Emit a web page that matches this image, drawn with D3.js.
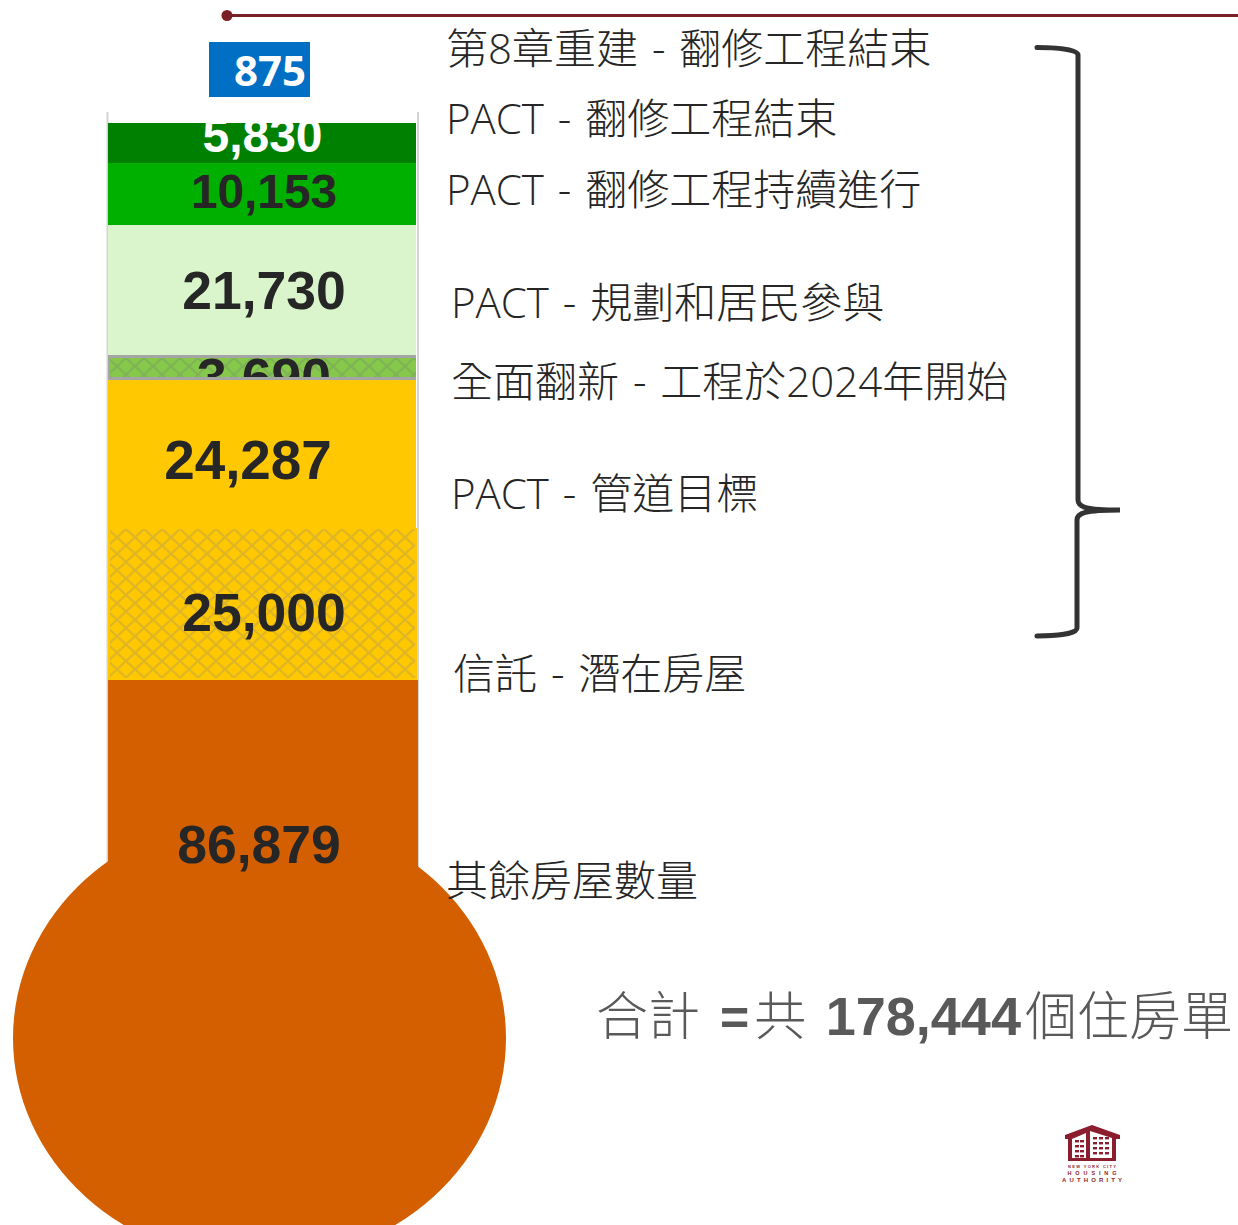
<!DOCTYPE html>
<html>
<head>
	<meta charset="utf-8">
	<title></title>
	<style>
		html, body { margin: 0; padding: 0; background: #fff; }
		svg { display: block; }
		.label { font-family: "Open Sans", "Noto Sans CJK TC", sans-serif; font-weight: 300; fill: #262626; font-size: 42px; word-spacing: 3px; }
		.value { font-family: "Liberation Sans", Arial, sans-serif; font-weight: 700; fill: #262626; text-anchor: middle; }
	</style>
</head>
<body>
	<svg id="container" width="1238" height="1225"></svg>
	<script src="https://d3js.org/d3.v7.min.js"></script>
	<script>
		// bottom to top, same order as the column
		let categories = ["其餘房屋數量", "信託 - 潛在房屋", "PACT - 管道目標", "全面翻新 - 工程於2024年開始", "PACT - 規劃和居民參與", "PACT - 翻修工程持續進行", "PACT - 翻修工程結束", "第8章重建 - 翻修工程結束"]
		let units = [86879, 25000, 24287, 3690, 21730, 10153, 5830, 875]
		let colors = ["#d35f00", "#ffc800", "#ffc800", "#86c94a", "#daf5cc", "#00b000", "#008000", "#006fc4"]
		let hatched = [false, true, false, true, false, false, false, false]
		let textColors = ["#262626", "#262626", "#262626", "#262626", "#262626", "#262626", "#fff", "#fff"]

		// label layout, same order
		let labelX = [446, 453, 451, 451, 451, 446, 446, 446]
		let labelY = [896, 689, 509, 397, 318, 205, 134, 64]
		let valueX = [259, 264, 248, 264, 264, 264, 262.5]
		let valueY = [863, 631, 479, 396, 309, 208, 152]
		let valueSize = [53.5, 53.5, 54.8, 53.5, 53.5, 47.8, 48]

		let svg = d3.select("#container")
		let fmt = d3.format(",")

		// the graphic isn't perfectly to scale so the scale gets a stop per segment
		let stops = [0]
		units.slice(0, 7).forEach(d => stops.push(stops[stops.length - 1] + d))
		let y = d3.scaleLinear()
			.domain(stops)
			.range([1210, 680, 528, 380, 355, 225, 163, 123])

		let segments = units.slice(0, 7).map((d, i) => ({
			i: i,
			value: d,
			y0: y(stops[i]),
			y1: y(stops[i + 1])
		}))

		let defs = svg.append("defs")

		function addPattern(id, base, line, py) {
			let p = defs.append("pattern")
				.attr("id", id)
				.attr("width", 18)
				.attr("height", 16.5)
				.attr("patternUnits", "userSpaceOnUse")
				.attr("x", 108)
				.attr("y", py)
			p.append("rect").attr("width", 18).attr("height", 16.5).attr("fill", base)
			p.append("path")
				.attr("d", "M0 0 L18 16.5 M18 0 L0 16.5")
				.attr("fill", "none")
				.attr("stroke", line)
				.attr("stroke-width", 2.2)
				.attr("opacity", 0.3)
		}
		addPattern("hatchYellow", "#ffc800", "#8f8a80", 529)
		addPattern("hatchGreen", "#86c94a", "#6f7f70", 358)

		segments.forEach(d => {
			defs.append("clipPath")
				.attr("id", "clip" + d.i)
				.append("rect")
				.attr("x", 100)
				.attr("width", 330)
				.attr("y", d.y1)
				.attr("height", d.y0 - d.y1 - (d.i == 3 ? 3 : 0))
		})

		// side lines of the tube
		svg.selectAll(".side")
			.data([107.5, 418])
			.enter()
			.append("line")
			.attr("x1", d => d)
			.attr("x2", d => d)
			.attr("y1", 112)
			.attr("y2", 868)
			.attr("stroke", "#d4d4d4")
			.attr("stroke-width", 2)

		// bulb
		svg.append("ellipse")
			.attr("cx", 259.5)
			.attr("cy", 1038)
			.attr("rx", 246.5)
			.attr("ry", 224)
			.attr("fill", colors[0])

		let g = svg.selectAll(".segment")
			.data(segments)
			.enter()
			.append("g")

		g.append("rect")
			.attr("x", 108)
			.attr("width", d => d.i == 0 ? 310 : (d.i == 1 ? 309 : 308))
			.attr("y", d => d.y1)
			.attr("height", d => d.y0 - d.y1)
			.attr("fill", d => d.i == 3 ? "#a5a5a5" : colors[d.i])

		g.filter(d => hatched[d.i])
			.append("rect")
			.attr("x", 110)
			.attr("width", d => d.i == 3 ? 306 : 305)
			.attr("y", d => d.y1 + (d.i == 3 ? 3 : 1))
			.attr("height", d => d.y0 - d.y1 - (d.i == 3 ? 6 : 3))
			.attr("fill", d => d.i == 3 ? "url(#hatchGreen)" : "url(#hatchYellow)")

		g.append("text")
			.attr("class", "value")
			.attr("clip-path", d => "url(#clip" + d.i + ")")
			.attr("x", d => valueX[d.i])
			.attr("y", d => valueY[d.i])
			.attr("font-size", d => valueSize[d.i])
			.style("fill", d => textColors[d.i])
			.text(d => fmt(d.value))

		// 875 sits apart from the column
		svg.append("rect")
			.attr("x", 209)
			.attr("y", 42)
			.attr("width", 101)
			.attr("height", 55)
			.attr("fill", colors[7])
		svg.append("text")
			.attr("x", 270)
			.attr("y", 86)
			.attr("text-anchor", "middle")
			.attr("font-family", "'Open Sans', sans-serif")
			.attr("font-weight", 700)
			.attr("font-size", 42)
			.attr("fill", textColors[7])
			.text(fmt(units[7]))

		// leader line
		svg.append("line")
			.attr("x1", 227)
			.attr("x2", 1238)
			.attr("y1", 15.5)
			.attr("y2", 15.5)
			.attr("stroke", "#7b1f26")
			.attr("stroke-width", 3)
		svg.append("circle")
			.attr("cx", 227)
			.attr("cy", 15.5)
			.attr("r", 5.5)
			.attr("fill", "#7b1f26")

		svg.selectAll(".label")
			.data(categories)
			.enter()
			.append("text")
			.attr("class", "label")
			.attr("x", (d, i) => labelX[i])
			.attr("y", (d, i) => labelY[i])
			.text(d => d)

		// brace
		svg.append("path")
			.attr("d", "M1037 47.5 C1055 47.5 1078 49 1078 55 L1078 500 C1078 507 1085 510 1120 510 C1085 510 1077 513 1077 520 L1077 628 C1077 634 1055 636 1037 636")
			.attr("fill", "none")
			.attr("stroke", "#333")
			.attr("stroke-width", 5)
			.attr("stroke-linecap", "round")

		// total line
		let total = svg.append("text")
			.attr("x", 596)
			.attr("y", 1035)
			.attr("font-family", "'Noto Sans CJK TC', sans-serif")
			.attr("font-size", 52)
			.attr("font-weight", 300)
			.attr("fill", "#595959")
		total.append("tspan").text("合計")
		total.append("tspan")
			.attr("dx", 20)
			.attr("font-family", "'Liberation Sans', Arial, sans-serif")
			.attr("font-weight", 700)
			.attr("font-size", 50)
			.text("=")
		total.append("tspan").attr("dx", 5).text("共 ")
		total.append("tspan")
			.attr("dx", 8)
			.attr("font-family", "'Liberation Sans', Arial, sans-serif")
			.attr("font-weight", 700)
			.attr("font-size", 54)
			.text(fmt(d3.sum(units)))
		total.append("tspan").attr("dx", 4).text("個住房單")

		// housing authority logo
		let logo = svg.append("g").attr("transform", "translate(1064,1125)")
		logo.append("path")
			.attr("d", "M1 10 L28 0 L56 10 L56 14 L52 14 L52 36 L4 36 L4 14 L1 14 Z M8 14 L8 33 L22 33 L22 8 Z M26 6 L26 33 L48 33 L48 13 Z")
			.attr("fill", "#8c1d2e")
			.attr("fill-rule", "evenodd")
		let winX = [11, 16, 29, 35, 41]
		let winY = [15, 20, 25, 30]
		winX.forEach(wx => winY.forEach(wy => {
			logo.append("rect")
				.attr("x", wx)
				.attr("y", wy - (wx > 25 ? 3 : 0))
				.attr("width", 4)
				.attr("height", 2.4)
				.attr("fill", "#8c1d2e")
		}))
		logo.selectAll(".logoText")
			.data([["NEW YORK CITY", 4, 43, 48], ["HOUSING", 5.5, 50, 49], ["AUTHORITY", 6, 57, 60]])
			.enter()
			.append("text")
			.attr("x", d => 28 - d[3] / 2)
			.attr("y", d => d[2])
			.attr("font-family", "'Liberation Sans', Arial, sans-serif")
			.attr("font-weight", 700)
			.attr("font-size", d => d[1])
			.attr("textLength", d => d[3])
			.attr("fill", "#8c1d2e")
			.text(d => d[0])
	</script>
</body>
</html>
